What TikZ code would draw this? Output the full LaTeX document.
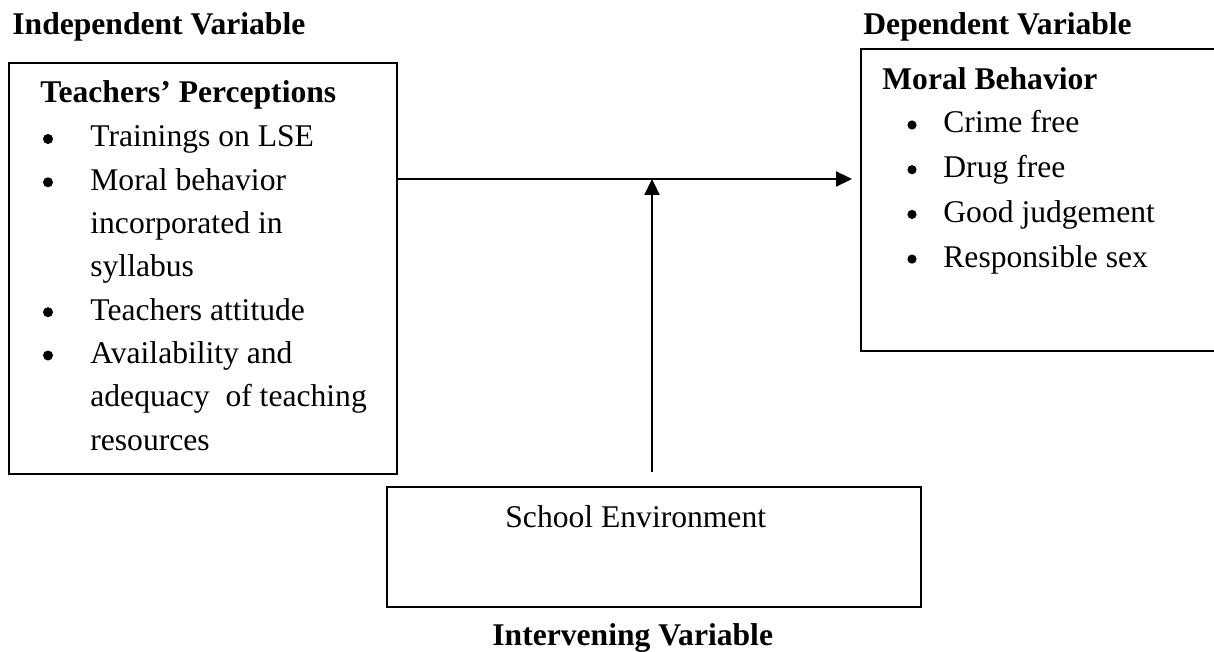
\documentclass[tikz,border=0pt]{standalone}
\usepackage{fontspec}
\setmainfont{Liberation Serif}
\usetikzlibrary{arrows.meta}

\begin{document}
\begin{tikzpicture}[x=5pt,y=5pt]
\tikzstyle{every node}+=[inner sep=0pt, font=\fontsize{15.8}{21.6}\selectfont]
\tikzstyle{varbox}=[draw=black, line width=1pt]
\tikzstyle{flow}=[draw=black, line width=1.1pt, -{Triangle[length=8pt,width=7.5pt]}]
\tikzstyle{title}=[anchor=base west, font=\fontsize{15.8}{21.6}\selectfont\bfseries]
\tikzstyle{dot}=[circle, fill=black, minimum size=5pt]
\useasboundingbox (0,0) rectangle (121.4,-65.2);
% boxes
\node [varbox, minimum width=194pt, minimum height=205.5pt] (perc) at (20.3,-26.85) {};
\node [varbox, minimum width=184.5pt, minimum height=151pt] (moral) at (104.55,-20.0) {};
\node [varbox, minimum width=267pt, minimum height=60pt] (env) at (65.4,-54.7) {};
% variable titles
\node [title] (indep) at (1.2,-3.5) {Independent Variable};
\node [title] (dep) at (86.3,-3.5) {Dependent Variable};
\node [title] (interv) at (49.2,-64.5) {Intervening Variable};
% box headings
\node [title] (perchead) at (4.0,-10.3) {Teachers’ Perceptions};
\node [title] (moralhead) at (88.2,-9.0) {Moral Behavior};
\node [anchor=base west] (envtext) at (50.5,-52.7) {School Environment};
% teachers list
\foreach \y/\txt [count=\i] in {14.7/Trainings on LSE, 19.03/Moral behavior,
    23.36/incorporated in, 27.69/syllabus, 32.02/Teachers attitude,
    36.35/Availability and, 40.68/adequacy\ \ of teaching, 45.01/resources}
  \node [anchor=base west] (percitem\i) at (9.0,-\y) {\txt};
\foreach \y [count=\i] in {14.7,19.03,32.02,36.35}
  \node [dot] (percdot\i) at (4.8,{0.8-\y}) {};
% behaviour list
\foreach \y/\txt [count=\i] in {13.3/Crime free, 17.77/Drug free,
    22.24/Good judgement, 26.71/Responsible sex}
{
  \node [anchor=base west] (moralitem\i) at (94.3,-\y) {\txt};
  \node [dot, minimum size=4.6pt] (moraldot\i) at (91.2,{0.8-\y}) {};
}
% arrows
\coordinate (meet) at (65.2,-17.9);
\draw [flow] (perc.east |- meet) -- ([xshift=-4pt]moral.west |- meet);
\draw [flow] ([yshift=7pt]env.north -| meet) -- (meet);
\end{tikzpicture}
\end{document}
